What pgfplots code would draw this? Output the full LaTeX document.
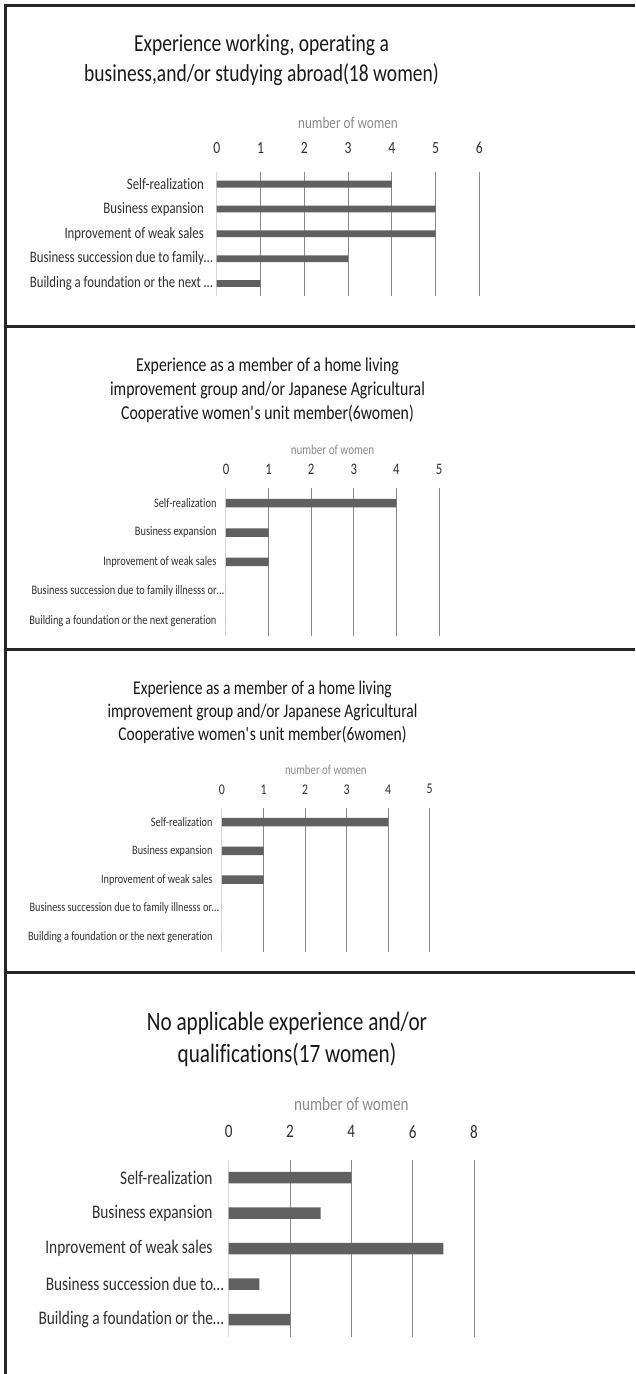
\documentclass[border=0pt]{standalone}
\usepackage{fontspec}
\setmainfont{Carlito}[FakeStretch=0.8, Ligatures=NoCommon]
\usepackage{pgfplots}
\pgfplotsset{compat=1.18}

\definecolor{bargray}{HTML}{606060}
\definecolor{gridgray}{HTML}{8C8C8C}
\definecolor{axisgray}{HTML}{D9D9D9}
\definecolor{framegray}{HTML}{262626}
\definecolor{labelgray}{HTML}{8A8A8A}
\definecolor{textgray}{HTML}{303030}

\newcommand{\fs}[2]{\fontsize{#1}{#2}\selectfont}

\pgfplotsset{
  panel/.style={
    xbar, scale only axis, anchor=south west,
    axis x line*=top, axis y line*=left,
    x axis line style={draw=none},
    y axis line style={draw=axisgray, line width=1pt},
    xmin=0, ymin=-0.5, ymax=4.5, y dir=reverse,
    ytick={0,...,4},
    tick style={draw=none}, major tick length=0pt,
    xmajorgrids, major grid style={draw=gridgray, line width=0.9pt},
    extra x ticks={0}, extra x tick style={grid=none},
    enlargelimits=false, clip=false,
    bar shift=0pt,
    /pgf/number format/assume math mode=true,
    xticklabel style={anchor=center, text=textgray},
    yticklabel style={anchor=east, inner sep=0pt, text=textgray, align=right},
    xlabel={number of women},
    xlabel style={at={(axis description cs:0.5,1)}, anchor=center, text=labelgray, inner sep=0pt},
  },
  cats/.style={yticklabels={Self-realization, Business expansion, Inprovement of weak sales, #1}},
}

\begin{document}
\begin{tikzpicture}
\useasboundingbox (0pt,0pt) rectangle (635pt,1374pt);

% panel frames
\draw[framegray, line width=2.5pt] (5.3pt,0pt) -- (5.3pt,1368.7pt) -- (635pt,1368.7pt);
\draw[framegray, line width=2.5pt] (5.3pt,1047.7pt) -- (635pt,1047.7pt);
\draw[framegray, line width=2.5pt] (5.3pt,724.3pt) -- (635pt,724.3pt);
\draw[framegray, line width=2.5pt] (5.3pt,401.7pt) -- (635pt,401.7pt);

% ---- panel 1 ----
\node[align=center, text=black!90, font=\fs{24.4}{30}] at (261.5pt,1314pt)
  {Experience working, operating a\\business,and/or studying abroad(18 women)};
\begin{axis}[panel, at={(216.7pt,1078pt)}, width=262.6pt, height=124.3pt,
  xmax=6, xtick={1,...,6},
  xticklabel style={font=\fs{17}{20}, yshift=23.7pt},
  xlabel style={font=\fs{16.5}{20}, yshift=48.7pt},
  yticklabel style={font=\fs{16}{19}, xshift=-12.7pt},
  cats={{Business succession due to family…\hspace*{-9pt}}, {Building a foundation or the next …\hspace*{-9pt}}}]
\addplot[fill=bargray, draw=none, bar width=6.8pt] coordinates {(4,0) (5,1) (5,2) (3,3) (1,4)};
\end{axis}

% ---- panel 2 ----
\node[align=center, text=black!90, font=\fs{19.7}{24}] at (267.5pt,983.5pt)
  {Experience as a member of a home living\\improvement group and/or Japanese Agricultural\\Cooperative women\textquotesingle s unit member(6women)};
\begin{axis}[panel, at={(226pt,738.3pt)}, width=213pt, height=147.4pt,
  xmax=5, xtick={1,...,5},
  xticklabel style={font=\fs{16}{19}, yshift=19.3pt},
  xlabel style={font=\fs{13.8}{16}, yshift=38.3pt},
  yticklabel style={font=\fs{13}{16}, xshift=-9.3pt},
  cats={{Business succession due to family illnesss or…\hspace*{-7.5pt}}, Building a foundation or the next generation}]
\addplot[fill=bargray, draw=none, bar width=8.5pt] coordinates {(4,0) (1,1) (1,2) (0,3) (0,4)};
\end{axis}

% ---- panel 3 ----
\node[align=center, text=black!90, font=\fs{19.4}{23}] at (262.5pt,661.7pt)
  {Experience as a member of a home living\\improvement group and/or Japanese Agricultural\\Cooperative women\textquotesingle s unit member(6women)};
\begin{axis}[panel, at={(222pt,422.3pt)}, width=207.7pt, height=144pt,
  xmax=5, xtick={1,...,5},
  xticklabel style={font=\fs{14.8}{18}, yshift=18.4pt},
  xlabel style={font=\fs{13.5}{16}, yshift=37.7pt},
  yticklabel style={font=\fs{12.8}{15}, xshift=-9.3pt},
  cats={{Business succession due to family illnesss or…\hspace*{-6.6pt}}, Building a foundation or the next generation}]
\addplot[fill=bargray, draw=none, bar width=8.5pt] coordinates {(4,0) (1,1) (1,2) (0,3) (0,4)};
\end{axis}

% ---- panel 4 ----
\node[align=center, text=black!90, font=\fs{26.5}{32}] at (287pt,334.8pt)
  {No applicable experience and/or\\qualifications(17 women)};
\begin{axis}[panel, at={(228.7pt,36.7pt)}, width=245.3pt, height=177.3pt,
  xmax=8, xtick={2,4,6,8},
  xticklabel style={font=\fs{19}{22}, yshift=28.3pt},
  xlabel style={font=\fs{18.9}{22}, yshift=55.7pt},
  yticklabel style={font=\fs{19.2}{22}, xshift=-16pt},
  cats={{Business succession due to…\hspace*{-11.3pt}}, {Building a foundation or the…\hspace*{-11.3pt}}}]
\addplot[fill=bargray, draw=none, bar width=11.5pt] coordinates {(4,0) (3,1) (7,2) (1,3) (2,4)};
\end{axis}
\end{tikzpicture}
\end{document}
